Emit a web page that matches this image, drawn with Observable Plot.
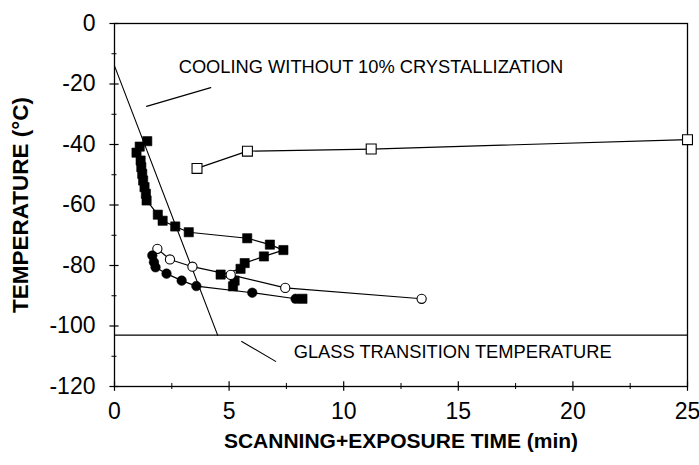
<!DOCTYPE html>
<html><head><meta charset="utf-8">
<script src="https://cdn.jsdelivr.net/npm/d3@7"></script>
<script src="https://cdn.jsdelivr.net/npm/@observablehq/plot@0.6"></script>
<style>body{margin:0;background:#fff} svg{display:block}</style>
</head><body><div id="chart"></div>
<script>
// ---- data ----
const xMajor = [0, 5, 10, 15, 20, 25];
const xMinor = [2.5, 7.5, 12.5, 17.5, 22.5];
const yMajor = [0, -20, -40, -60, -80, -100, -120];
const yMinor = [-10, -30, -50, -70, -90, -110];

const openSqX = [3.6, 5.8, 11.2, 25.0];
const openSqY = [-47.9, -42.2, -41.5, -38.4];

const filledSqX = [1.43, 1.10, 0.96, 1.14, 1.17, 1.21, 1.25, 1.31, 1.37, 1.40, 1.89, 2.10, 2.65, 3.24, 5.79, 6.78, 7.37, 6.52, 5.68, 5.50, 4.63, 5.24, 5.17];
const filledSqY = [-38.9, -40.7, -42.7, -45.3, -47.5, -49.7, -51.9, -54.1, -56.3, -58.5, -63.2, -65.2, -67.1, -69.0, -71.0, -73.1, -74.9, -77.0, -79.2, -81.1, -83.0, -85.0, -86.9];

const openCircX = [1.87, 2.42, 3.40, 5.07, 7.45, 13.4];
const openCircY = [-74.5, -78.0, -80.4, -83.1, -87.4, -91.0];

const filledCircX = [1.65, 1.72, 1.79, 2.27, 2.93, 3.57, 6.01, 7.90];
const filledCircY = [-76.7, -78.9, -80.6, -82.7, -85.0, -86.8, -89.0, -91.0];
const endSqX = [8.2];
const endSqY = [-91.0];

const coolX = [0, 4.5];
const coolY = [-14, -103];
const glassT = -103;
const coolLeaderX = [1.4, 4.2];
const coolLeaderY = [-27.4, -21.2];
const glassLeaderX = [5.55, 7.03];
const glassLeaderY = [-105.1, -111.7];

const notes = ["COOLING WITHOUT 10% CRYSTALLIZATION", "GLASS TRANSITION TEMPERATURE"];
const noteX = [2.8, 7.82];
const noteY = [-14.5, -108.8];

const xTitle = "SCANNING+EXPOSURE TIME (min)";
const yTitle = "TEMPERATURE (°C)";

// ---- build tables ----
const pts = (xs, ys) => xs.map((x, i) => ({x, y: ys[i]}));
const openSq = pts(openSqX, openSqY);
const filledSq = pts(filledSqX, filledSqY);
const openCirc = pts(openCircX, openCircY);
const filledCirc = pts(filledCircX, filledCircY);
const endSq = pts(endSqX, endSqY);
const cool = pts(coolX, coolY);
const coolLeader = pts(coolLeaderX, coolLeaderY);
const glassLeader = pts(glassLeaderX, glassLeaderY);
const noteData = notes.map((t, i) => ({t, x: noteX[i], y: noteY[i]}));

const lw = 1.2;
const fmt = d => `${d}`;
const chart = Plot.plot({
  width: 699, height: 465,
  marginLeft: 114, marginRight: 12, marginTop: 23, marginBottom: 79,
  style: {fontFamily: "'Liberation Sans', Arial, Helvetica, sans-serif", background: "#fff", color: "#000"},
  x: {domain: [0, 25]},
  y: {domain: [-120, 0]},
  marks: [
    Plot.frame({stroke: "#000", strokeWidth: 1.3}),
    Plot.axisX(xMajor, {tickSize: 0, tickPadding: 16, fontSize: 23, label: null, tickFormat: fmt}),
    Plot.axisY(yMajor, {tickSize: 0, tickPadding: 19, fontSize: 23, label: null, tickFormat: fmt}),
    // crossing tick marks
    Plot.ruleY(yMajor, {x1: -0.2, x2: 0.2, stroke: "#000", strokeWidth: 1.2}),
    Plot.ruleY(yMinor, {x1: -0.11, x2: 0.11, stroke: "#000", strokeWidth: 1}),
    Plot.ruleX(xMajor, {y1: -121.6, y2: -118.4, stroke: "#000", strokeWidth: 1.2}),
    Plot.ruleX(xMinor, {y1: -121, y2: -119, stroke: "#000", strokeWidth: 1}),
    // reference lines
    Plot.ruleY([glassT], {stroke: "#000", strokeWidth: 1.2}),
    Plot.line(cool, {x: "x", y: "y", stroke: "#000", strokeWidth: 1.1}),
    Plot.line(coolLeader, {x: "x", y: "y", stroke: "#000", strokeWidth: 1.1}),
    Plot.line(glassLeader, {x: "x", y: "y", stroke: "#000", strokeWidth: 1.1}),
    // series
    Plot.line(openSq, {x: "x", y: "y", stroke: "#000", strokeWidth: lw}),
    Plot.line(filledSq, {x: "x", y: "y", stroke: "#000", strokeWidth: lw}),
    Plot.line(openCirc, {x: "x", y: "y", stroke: "#000", strokeWidth: lw}),
    Plot.line(filledCirc, {x: "x", y: "y", stroke: "#000", strokeWidth: lw}),
    Plot.dot(openSq, {x: "x", y: "y", symbol: "square", r: 5.6, fill: "#fff", stroke: "#000", strokeWidth: 1.1}),
    Plot.dot(filledSq, {x: "x", y: "y", symbol: "square", r: 5.2, fill: "#000", stroke: "#000", strokeWidth: 0.6}),
    Plot.dot(endSq, {x: "x", y: "y", symbol: "square", r: 5.2, fill: "#000", stroke: "#000", strokeWidth: 0.6}),
    Plot.dot(openCirc, {x: "x", y: "y", r: 4.6, fill: "#fff", stroke: "#000", strokeWidth: 1.1}),
    Plot.dot(filledCirc, {x: "x", y: "y", r: 4.8, fill: "#000", stroke: "#000", strokeWidth: 0.5}),
    // annotations
    Plot.text(noteData, {x: "x", y: "y", text: "t", textAnchor: "start", fontSize: 18.3, fill: "#000"}),
    // axis titles
    Plot.text([xTitle], {frameAnchor: "bottom", dy: 61, fontSize: 21, fontWeight: "bold", fill: "#000"}),
    Plot.text([yTitle], {frameAnchor: "left", textAnchor: "middle", dx: -94, rotate: -90, fontSize: 22.5, fontWeight: "bold", fill: "#000"})
  ]
});
document.getElementById("chart").appendChild(chart);
</script>
</body></html>
